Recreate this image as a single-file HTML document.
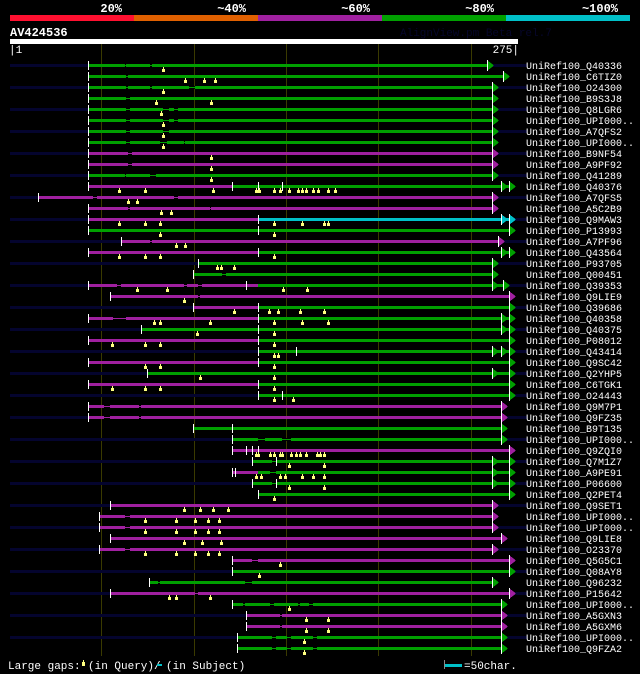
<!DOCTYPE html>
<html><head><meta charset="utf-8">
<style>
html,body{margin:0;padding:0;background:#000;}
svg{display:block;}
text{font-family:"Liberation Mono",monospace;}
</style></head>
<body>
<svg id="chart" width="640" height="674" viewBox="0 0 640 674" xmlns="http://www.w3.org/2000/svg" shape-rendering="crispEdges">
<rect x="0" y="0" width="640" height="674" fill="#000"/>
<g id="hdr"></g>
<text x="10" y="36" fill="#fff" font-size="12" font-weight="bold">AV424536</text>
<text x="400" y="36" fill="#06062a" font-size="11">AlignView.pm Beta rel.7</text>
<rect x="10" y="39" width="508" height="5" fill="#fff"/>
<text x="9" y="53" fill="#fff" font-size="11">|1</text>
<text x="519" y="53" fill="#fff" font-size="11" text-anchor="end">275|</text>
<g id="grid"></g>
<g id="rows"></g>
<g>
<text x="8" y="669" fill="#fff" font-size="11">Large gaps:</text>
<rect x="82" y="662" width="3" height="4" fill="#ffff80"/><rect x="83" y="660" width="1" height="2" fill="#ffff80"/>
<text x="88" y="669" fill="#fff" font-size="11">(in Query)/</text>
<rect x="157" y="664" width="5" height="2" fill="#00c0c8"/>
<text x="166" y="669" fill="#fff" font-size="11">(in Subject)</text>
<rect x="444" y="660" width="1" height="9" fill="#888"/>
<rect x="445" y="664" width="17" height="3" fill="#00c0c8"/>
<text x="464" y="669" fill="#fff" font-size="11">=50char.</text>
</g>
</svg>
<script>
var NS="http://www.w3.org/2000/svg";
// identity scale
var scaleLabels=["20%","~40%","~60%","~80%","~100%"];
var scaleColors=["#ff1030","#e06000","#a020a0","#00a000","#00c0c8"];
// query length
var queryLen=275;
var gridTicks=[50,100,150,200,250];
var G="#00a000",P="#a020a0",C="#00c0c8";
var names=["Q40336","C6TIZ0","O24300","B9S3J8","Q8LGR6","UPI000..","A7QFS2","UPI000..","B9NF54","A9PF92","Q41289","Q40376","A7QFS5","A5C2B9","Q9MAW3","P13993","A7PF96","Q43564","P93705","Q00451","Q39353","Q9LIE9","Q39686","Q40358","Q40375","P08012","Q43414","Q9SC42","Q2YHP5","C6TGK1","O24443","Q9M7P1","Q9FZ35","B9T135","UPI000..","Q9ZQI0","Q7M1Z7","A9PE91","P06600","Q2PET4","Q9SET1","UPI000..","UPI000..","Q9LIE8","O23370","Q5G5C1","Q08AY8","Q96232","P15642","UPI000..","A5GXN3","A5GXM6","UPI000..","Q9FZA2"];
var segs=[
[[42,258,G]],[[42,267,G]],[[42,261,G]],[[42,261,G]],[[42,261,G]],[[42,261,G]],[[42,261,G]],[[42,261,G]],[[42,261,P]],[[42,261,P]],[[42,261,G]],
[[42,120,P],[120,270,G]],[[15,261,P]],[[42,261,P]],[[42,134,P],[134,270,C]],[[42,270,G]],[[60,264,P]],[[42,134,P],[134,270,G]],[[102,261,G]],[[99,261,G]],[[42,134,P],[134,267,G]],[[54,270,P]],
[[99,134,P],[134,270,G]],[[42,134,P],[134,270,G]],[[71,270,G]],[[42,134,P],[134,270,G]],[[134,270,G]],[[42,134,P],[134,270,G]],[[74,270,G]],[[42,134,P],[134,270,G]],[[134,270,G]],
[[42,266,P]],[[42,266,P]],[[99,266,G]],[[120,266,G]],[[120,270,P]],[[131,270,G]],[[120,134,P],[134,270,G]],[[131,270,G]],[[134,270,G]],
[[54,261,P]],[[48,261,P]],[[48,261,P]],[[54,266,P]],[[48,261,P]],[[120,270,P]],[[120,270,G]],[[75,261,G]],[[54,270,P]],[[120,266,G]],[[128,266,P]],[[128,266,P]],[[123,266,G]],[[123,266,G]]];
var gaps=[
[[62,63],[76,77]],[[63,64]],[[63,64],[76,77],[97,100]],[[63,65]],[[63,65],[83,86],[89,91]],[[63,65],[83,86],[89,91]],[[63,65],[83,86]],[[63,65],[81,85],[94,95]],[[64,66]],[[64,66]],[[62,63],[76,79]],
[],[[45,47],[89,91]],[[64,65],[108,109]],[],[],[[76,77]],[],[],[[115,117]],[[58,60],[94,96],[102,104]],[[102,103]],
[],[[56,63]],[],[],[],[],[],[],[],
[[51,54],[70,71]],[[51,54],[70,71]],[],[[134,138],[147,152]],[],[[142,144]],[[141,144]],[[142,144]],[],
[],[[62,65]],[[62,65]],[],[[62,65]],[[131,134]],[],[[80,81],[127,131]],[[100,102]],[[126,127],[141,143],[156,157],[162,164]],[[146,147]],[[146,147]],[[142,144],[150,152],[164,166]],[[142,144],[150,152],[164,166]]];
var ticks=[[],[],[],[],[],[],[],[],[],[],[],[120,134,147],[],[],[134],[134],[],[134],[],[],[128],[],
[134],[134],[134],[134],[155],[134],[],[134],[147],[],[],[120],[],[128,131,134],[144],[122],[144],[],[],[],[],[],[],[],[],[],[],[],[],[],[],[]];
var arrows=[[258],[267],[261],[261],[261],[261],[261],[261],[261],[261],[261],[266,270],[261],[261],[266,270],[270],[264],[266,270],[261],[261],[261,267],[270],
[270],[266,270],[266,270],[270],[261,266,270],[270],[261,270],[270],[270],[266],[266],[266],[266],[270],[261,270],[261,270],[261,270],[270],
[261],[261],[261],[266],[261],[270],[270],[261],[270],[266],[266],[266],[266],[266]];
var tris=[[83],[95,105,111],[83],[79,109],[82],[83],[83],[83],[109],[109],[109],
[59,73,110,133,135,143,146,151,156,158,160,164,167,172,176],[64,69],[82,87],[59,73,81,143,158,170,172],[81,143],[90,95],[59,73,81,143],[112,114,121],[],[69,85,148,161],[94],
[121,140,145,157,170],[78,81,108,143,158,172],[101,143],[55,73,81,143],[143,145],[73,81,143],[103,143],[55,73,81,143],[143,153],
[],[],[],[],[133,134,141,143,146,147,152,155,157,160,166,168,170],[151,170],[133,136,146,149,158,164,170],[151,170],[143],
[94,103,110,118],[73,90,100,107,113],[73,90,100,107,113],[94,104,114],[73,90,100,107,113],[146],[135],[],[86,90,108],[151],[160,172],[160,172],[159],[159]];

function xs(r){return Math.round(10+r*508/queryLen);}
function rowY(i){return 64+i*11;}
function el(tag,attrs,parent){var e=document.createElementNS(NS,tag);for(var k in attrs)e.setAttribute(k,attrs[k]);parent.appendChild(e);return e;}

var hdr=document.getElementById('hdr');
for(var i=0;i<scaleLabels.length;i++){
  var r=el('rect',{x:10+i*124,y:15,width:124,height:6,fill:scaleColors[i]},hdr);
  
  
  var t=el('text',{x:134+i*124-12,y:12,fill:'#fff','font-size':12,'font-weight':'bold','text-anchor':'end'},hdr);
  t.textContent=scaleLabels[i];
  
  
}
var grid=document.getElementById('grid');
for(var i=0;i<gridTicks.length;i++){
  var l=el('rect',{x:xs(gridTicks[i])-1,y:44,width:1,height:612,fill:'#3a3a00'},grid);
  
  
}
var rows=document.getElementById('rows');
for(var i=0;i<names.length;i++){
  var y=rowY(i);
  var g=el('g',{},rows);
  
  
  if(i%2===0){el('rect',{x:10,y:y,width:517,height:3,fill:'#04042e'},g);}
  var s=segs[i];
  for(var j=0;j<s.length;j++){
    var a=xs(s[j][0]),b=xs(s[j][1]);
    var bar=el('rect',{x:a,y:y,width:b-a,height:3,fill:s[j][2]},g);
    
    
  }
  var gp=gaps[i];
  for(var j=0;j<gp.length;j++){
    var a=xs(gp[j][0]),b=xs(gp[j][1]);
    if(b<=a)b=a+2;
    var col='#00a000';
    for(var k=0;k<s.length;k++){if(gp[j][0]>=s[k][0]&&gp[j][0]<=s[k][1])col=s[k][2];}
    el('rect',{x:a,y:y,width:b-a,height:3,fill:'#000'},g);
    el('rect',{x:a,y:y+1,width:b-a,height:1,fill:col},g);
  }
  el('rect',{x:xs(s[0][0]),y:y-3,width:1,height:9,fill:'#fff'},g);
  var tk=ticks[i];
  for(var j=0;j<tk.length;j++){el('rect',{x:xs(tk[j]),y:y-3,width:1,height:9,fill:'#fff'},g);}
  var ar=arrows[i];
  var lastCol=s[s.length-1][2];
  for(var j=0;j<ar.length;j++){
    var ax=xs(ar[j]);
    var p=el('polygon',{points:ax+','+(y-4)+' '+(ax+7)+','+(y+1.5)+' '+ax+','+(y+7),fill:lastCol},g);
    
    
    el('rect',{x:ax,y:y-4,width:1,height:11,fill:'#fff'},g);
  }
  var tr=tris[i];
  for(var j=0;j<tr.length;j++){
    var tx=xs(tr[j]);
    var m=el('g',{},g);
    
    
    el('rect',{x:tx,y:y+3,width:1,height:2,fill:'#ffff80'},m);
    el('rect',{x:tx-1,y:y+5,width:3,height:3,fill:'#ffff80'},m);
  }
  var lab=el('text',{x:526,y:y+5,fill:'#fff','font-size':10},g);
  lab.textContent='UniRef100_'+names[i];
  
  
}
</script>
</body></html>
